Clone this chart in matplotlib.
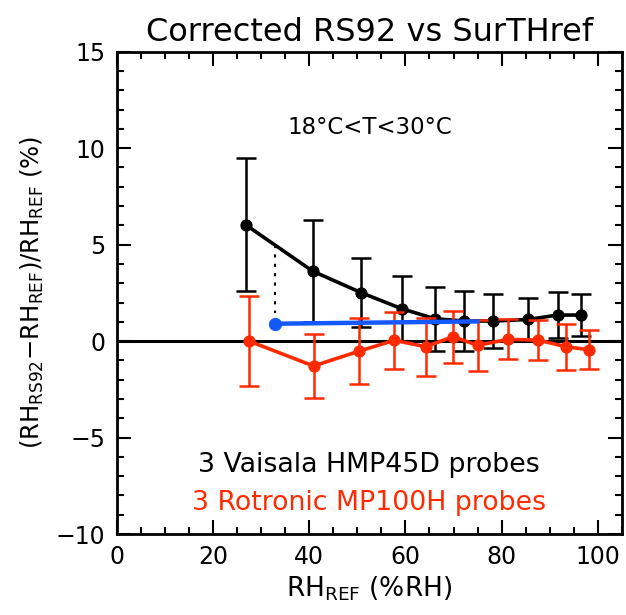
import matplotlib
matplotlib.use("Agg")
import matplotlib.pyplot as plt
from matplotlib.ticker import MultipleLocator, FuncFormatter

plt.rcParams['font.family'] = ['DejaVu Sans']
plt.rcParams['mathtext.fontset'] = 'dejavusans'

# Vaisala HMP45D (black)
vais_x = [26.8, 40.7, 50.8, 59.2, 66.1, 72.2, 78.2, 85.5, 91.6, 96.4]
vais_y = [6.03, 3.63, 2.51, 1.68, 1.16, 1.04, 1.04, 1.12, 1.35, 1.35]
vais_err = [3.45, 2.64, 1.80, 1.67, 1.65, 1.54, 1.40, 1.10, 1.20, 1.10]

# Rotronic MP100H (red)
rot_x = [27.5, 40.9, 50.4, 57.7, 64.2, 69.9, 75.0, 81.3, 87.6, 93.4, 98.1]
rot_y = [0.0, -1.29, -0.52, 0.04, -0.29, 0.23, -0.22, 0.09, 0.05, -0.29, -0.45]
rot_err = [2.35, 1.64, 1.70, 1.48, 1.50, 1.35, 1.33, 1.03, 1.05, 1.20, 1.02]

# blue segment
blue_x = [33.0, 74.9]
blue_y = [0.90, 1.02]

# dotted connector
dot_x = [33.0, 33.0]
dot_y = [4.96, 1.47]

black = '#000000'
red = '#FF2A00'
blue = '#1458FF'

fig = plt.figure(figsize=(6.26, 6.15), dpi=100)
ax = fig.add_axes([0.1864, 0.1317, 0.8072, 0.7842])

ax.axhline(0, color=black, lw=2.2, zorder=1)

ax.errorbar(vais_x, vais_y, yerr=vais_err, color=black, lw=2.6, elinewidth=1.8,
            capsize=7.5, capthick=1.8, marker='o', ms=7.8, zorder=3)
ax.errorbar(rot_x, rot_y, yerr=rot_err, color=red, lw=2.6, elinewidth=1.8,
            capsize=7.5, capthick=1.8, marker='o', ms=7.8, zorder=4)
ax.plot(blue_x, blue_y, color=blue, lw=3.2, zorder=5)
ax.plot(blue_x[:1], blue_y[:1], color=blue, marker='o', ms=8.5, lw=0, zorder=6)
ax.plot(dot_x, dot_y, color=black, lw=1.5, ls=(0, (1.5, 3)), zorder=2)

ax.set_xlim(0, 105)
ax.set_ylim(-10, 15)
ax.xaxis.set_major_locator(MultipleLocator(20))
ax.xaxis.set_minor_locator(MultipleLocator(5))
ax.yaxis.set_major_locator(MultipleLocator(5))
ax.yaxis.set_minor_locator(MultipleLocator(1))
ax.tick_params(which='both', direction='in', top=True, right=True, width=1.5,
               labelsize=17, pad=8)
ax.tick_params(which='major', length=10)
ax.tick_params(which='minor', length=5)
ax.xaxis.set_major_formatter(FuncFormatter(lambda v, p: f"{int(v)}" if v <= 100 else ""))
ax.yaxis.set_major_formatter(FuncFormatter(lambda v, p: f"{int(v)}".replace('-', '\u2212')))
for s in ax.spines.values():
    s.set_linewidth(2)

ax.set_title('Corrected RS92 vs SurTHref', fontsize=23, pad=8)
ax.set_xlabel(r'RH$_\mathregular{REF}$ (%RH)', fontsize=19, labelpad=4)
ax.set_ylabel(r'(RH$_\mathregular{RS92}$$-$RH$_\mathregular{REF}$)/RH$_\mathregular{REF}$ (%)',
              fontsize=17.5, labelpad=7)

fig.text(369.5 / 626, 1 - 127 / 615, '18\u00b0C<T<30\u00b0C', ha='center', va='center',
         fontsize=16.5)
fig.text(369 / 626, 1 - 465 / 615, '3 Vaisala HMP45D probes', ha='center', va='center',
         fontsize=19.3, color=black)
fig.text(369 / 626, 1 - 503 / 615, '3 Rotronic MP100H probes', ha='center', va='center',
         fontsize=19.3, color=red)

fig.savefig('out.png', dpi=100)
